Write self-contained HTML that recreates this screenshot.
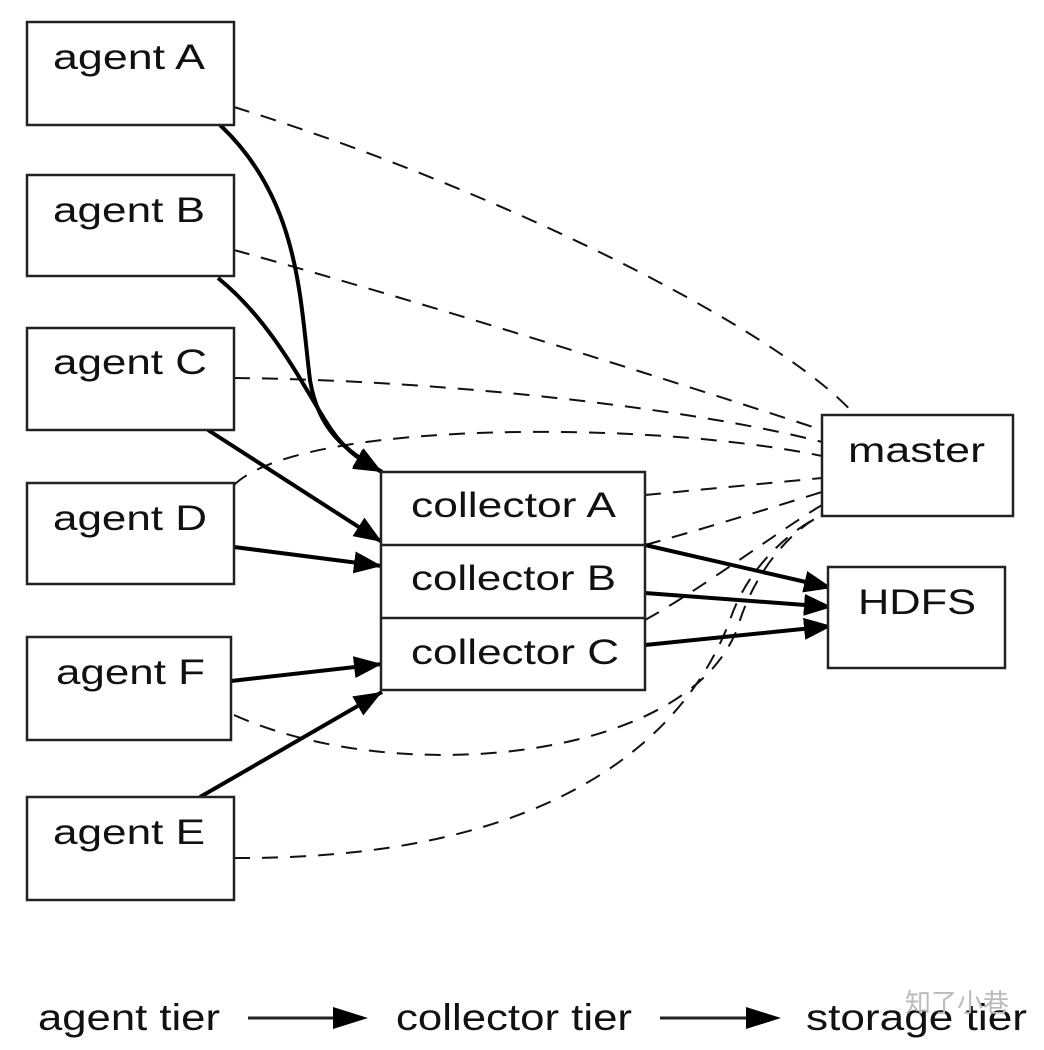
<!DOCTYPE html>
<html><head><meta charset="utf-8"><style>
html,body{margin:0;padding:0;background:#fff;}
svg{display:block;}
text{font-family:"Liberation Sans","Noto Sans CJK SC",sans-serif;fill:#111;}
</style></head><body>
<svg width="1044" height="1050" viewBox="0 0 1044 1050" xmlns="http://www.w3.org/2000/svg">
<defs>
<marker id="ah" markerUnits="userSpaceOnUse" markerWidth="30" markerHeight="22" refX="28" refY="11" orient="auto">
<path d="M0,0 L28,11 L0,22 Z" fill="#000"/>
</marker>
</defs>
<g fill="none" stroke="#111" stroke-width="2" stroke-dasharray="16,12">
<path d="M234,107 C500,190 780,330 855,415"/>
<path d="M234,250 C450,310 700,390 822,430"/>
<path d="M234,378 C450,380 700,410 822,442"/>
<path d="M234,485 C300,420 650,420 822,456"/>
<path d="M645,495 L822,478"/>
<path d="M645,545 C700,530 780,505 822,492"/>
<path d="M645,620 C700,590 780,530 822,505"/>
<path d="M234,715 C400,790 700,760 740,620 C760,560 800,525 822,515"/>
<path d="M234,858 C600,860 700,700 730,620 C750,560 800,525 822,515"/>
</g>
<g fill="none" stroke="#000" stroke-width="4">
<path d="M220,125 C300,200 300,300 310,380 C318,430 345,450 382,472" marker-end="url(#ah)"/>
<path d="M218,278 C270,320 300,380 325,420 C340,445 355,458 382,472" marker-end="url(#ah)"/>
<path d="M208,430 L382,542" marker-end="url(#ah)"/>
<path d="M234,547 L382,566" marker-end="url(#ah)"/>
<path d="M231,681 L382,664" marker-end="url(#ah)"/>
<path d="M200,797 L382,692" marker-end="url(#ah)"/>
<path d="M645,545 L832,588" marker-end="url(#ah)"/>
<path d="M645,593 L832,607" marker-end="url(#ah)"/>
<path d="M645,645 L832,626" marker-end="url(#ah)"/>
</g>
<g fill="#fff" stroke="#222" stroke-width="2.5">
<rect x="27" y="22" width="207" height="103"/>
<rect x="27" y="175" width="207" height="101"/>
<rect x="27" y="328" width="207" height="102"/>
<rect x="27" y="483" width="207" height="101"/>
<rect x="27" y="637" width="204" height="103"/>
<rect x="27" y="797" width="207" height="103"/>
<rect x="381" y="472" width="264" height="218"/>
<line x1="381" y1="545" x2="645" y2="545"/>
<line x1="381" y1="618" x2="645" y2="618"/>
<rect x="822" y="415" width="191" height="101"/>
<rect x="828" y="567" width="177" height="101"/>
</g>
<g font-size="35" lengthAdjust="spacingAndGlyphs">
<text x="53" y="69" textLength="152" lengthAdjust="spacingAndGlyphs">agent A</text>
<text x="53" y="222" textLength="152" lengthAdjust="spacingAndGlyphs">agent B</text>
<text x="53" y="374" textLength="154" lengthAdjust="spacingAndGlyphs">agent C</text>
<text x="53" y="530" textLength="154" lengthAdjust="spacingAndGlyphs">agent D</text>
<text x="56" y="684" textLength="149" lengthAdjust="spacingAndGlyphs">agent F</text>
<text x="53" y="844" textLength="152" lengthAdjust="spacingAndGlyphs">agent E</text>
<text x="411" y="517" textLength="205" lengthAdjust="spacingAndGlyphs">collector A</text>
<text x="411" y="590" textLength="205" lengthAdjust="spacingAndGlyphs">collector B</text>
<text x="411" y="664" textLength="208" lengthAdjust="spacingAndGlyphs">collector C</text>
<text x="848" y="462" textLength="137" lengthAdjust="spacingAndGlyphs">master</text>
<text x="858" y="614" textLength="118" lengthAdjust="spacingAndGlyphs">HDFS</text>
</g>
<g font-size="37">
<text x="38" y="1030" textLength="182" lengthAdjust="spacingAndGlyphs">agent tier</text>
<text x="396" y="1030" textLength="236" lengthAdjust="spacingAndGlyphs">collector tier</text>
<text x="806" y="1030" textLength="221" lengthAdjust="spacingAndGlyphs">storage tier</text>
</g>
<g stroke="#222" stroke-width="3">
<line x1="248" y1="1018" x2="335" y2="1018"/>
<line x1="660" y1="1018" x2="748" y2="1018"/>
</g>
<path d="M333,1007 L368,1018 L333,1029 Z" fill="#000"/>
<path d="M746,1007 L781,1018 L746,1029 Z" fill="#000"/>
<text x="905" y="1012" font-size="26" style="fill:#bbb">知了小巷</text>
</svg>
</body></html>
